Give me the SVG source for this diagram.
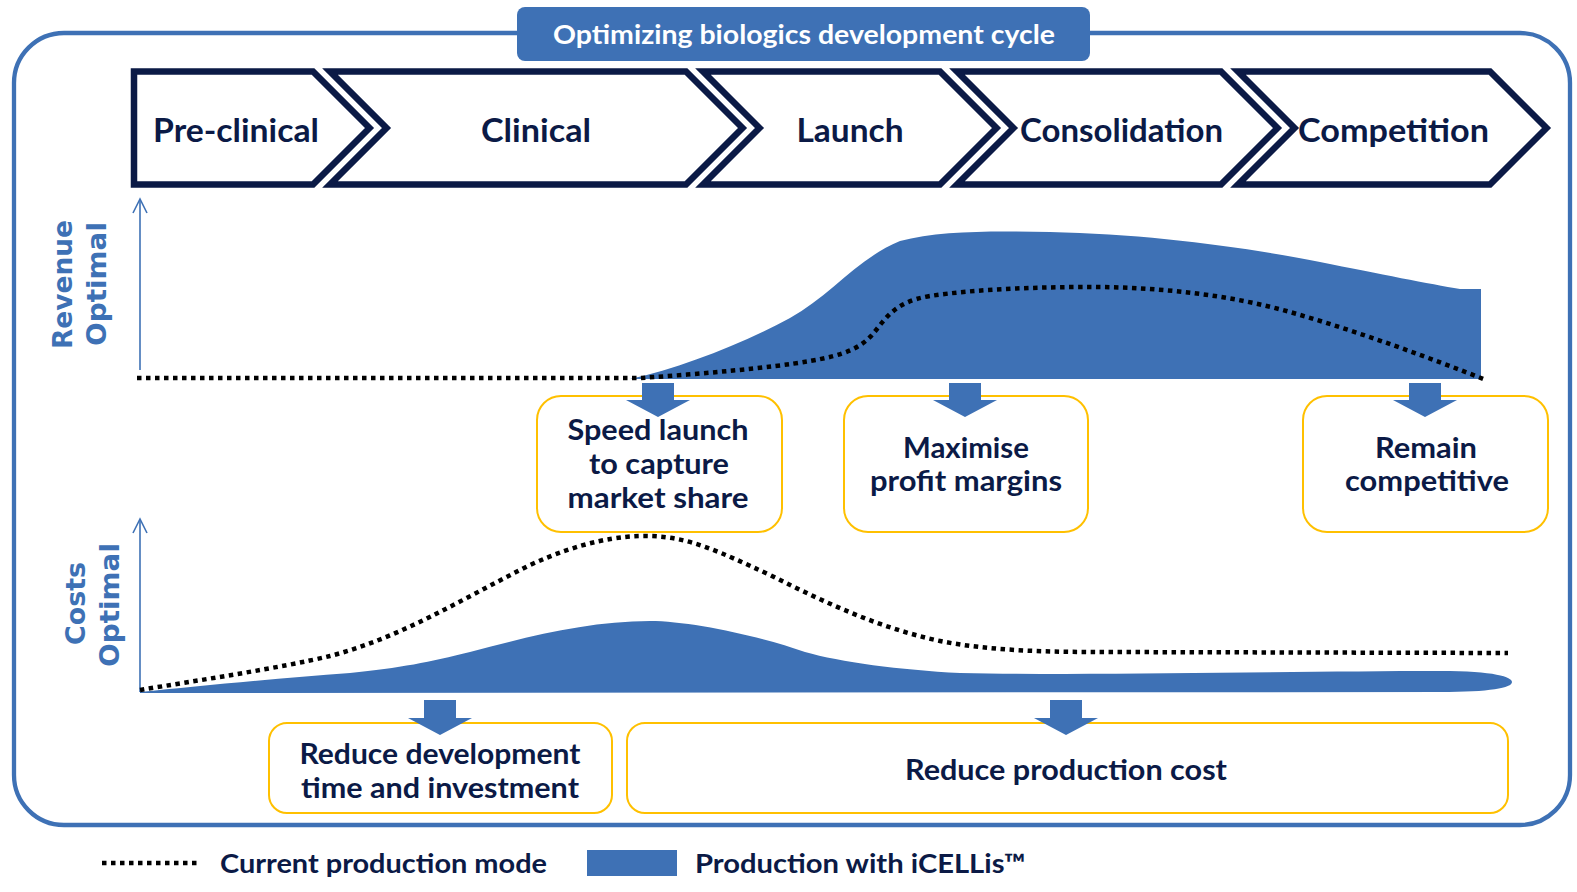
<svg xmlns="http://www.w3.org/2000/svg" width="1577" height="892" viewBox="0 0 1577 892">
<defs>
<style>
.frame{fill:none;stroke:#3e71b5;stroke-width:4.3}
.chev{fill:#fff;stroke:#0b1a46;stroke-width:6.5;stroke-linejoin:miter}
.chevt{font-family:Lato,"Open Sans",sans-serif;font-weight:700;font-size:32px;fill:#0b1a46;text-anchor:middle}
.title{font-family:Lato,"Open Sans",sans-serif;font-weight:700;font-size:26px;fill:#fff;text-anchor:middle}
.box{fill:#fff;stroke:#ffc000;stroke-width:2}
.bt{font-family:Lato,"Open Sans",sans-serif;font-weight:700;font-size:28px;fill:#0b1a46;text-anchor:middle}
.ax{fill:none;stroke:#3e71b5;stroke-width:1.6}
.axt{font-family:"DejaVu Sans",Verdana,sans-serif;font-weight:700;font-size:26px;fill:#3e71b5;text-anchor:middle}
.area{fill:#3e71b5}
.dot{fill:none;stroke:#000;stroke-width:4.5;stroke-dasharray:4.5 4.5}
.arr{fill:#3e71b5}
.lt{font-family:Lato,"Open Sans",sans-serif;font-weight:700;font-size:27px;fill:#0b1a46}
</style>
</defs>
<rect width="1577" height="892" fill="#fff"/>
<g id="frame">
<rect class="frame" x="14" y="33" width="1556" height="792" rx="50" ry="50"/>
</g>
<g id="title">
<rect x="517" y="7" width="573" height="54" rx="8" ry="8" fill="#3e71b5"/>
<text class="title" x="804" y="44" textLength="502" lengthAdjust="spacingAndGlyphs">Optimizing biologics development cycle</text>
</g>
<g id="stage-preclinical">
<path class="chev" d="M134,71.5 H313 L369.5,128 L313,184.5 H134 Z"/>
<text class="chevt" x="236" y="141.5" textLength="166" lengthAdjust="spacingAndGlyphs">Pre-clinical</text>
</g>
<g id="stage-clinical">
<path class="chev" d="M330,71.5 H686 L742.5,128 L686,184.5 H330 L386.5,128 Z"/>
<text class="chevt" x="536" y="141.5" textLength="110" lengthAdjust="spacingAndGlyphs">Clinical</text>
</g>
<g id="stage-launch">
<path class="chev" d="M703,71.5 H940 L996.5,128 L940,184.5 H703 L759.5,128 Z"/>
<text class="chevt" x="850" y="141.5" textLength="107" lengthAdjust="spacingAndGlyphs">Launch</text>
</g>
<g id="stage-consolidation">
<path class="chev" d="M957,71.5 H1221 L1277.5,128 L1221,184.5 H957 L1013.5,128 Z"/>
<text class="chevt" x="1121.5" y="141.5" textLength="203" lengthAdjust="spacingAndGlyphs">Consolidation</text>
</g>
<g id="stage-competition">
<path class="chev" d="M1238,71.5 H1490 L1546.5,128 L1490,184.5 H1238 L1294.5,128 Z"/>
<text class="chevt" x="1393.5" y="141.5" textLength="191" lengthAdjust="spacingAndGlyphs">Competition</text>
</g>
<g id="revenue-chart">
<line class="ax" x1="140" y1="200" x2="140" y2="370"/>
<polyline class="ax" points="133,213 140,199 147,213"/>
<text class="axt" transform="translate(72,284.5) rotate(-90)" textLength="129" lengthAdjust="spacingAndGlyphs">Revenue</text>
<text class="axt" transform="translate(106,284) rotate(-90)" textLength="124" lengthAdjust="spacingAndGlyphs">Optimal</text>
<path class="area" d="M630,379 C680,368 740,345 790,318 C830,296 858,258 900,241 C940,230 1000,231 1050,232 C1150,234 1250,248 1320,262 C1380,274 1430,284 1460,289 L1481,289 L1481,379 Z"/>
<path class="dot" d="M137,378 H640 C700,374 770,368 810,361 C845,355 860,348 872,335 C885,320 893,302 930,296 C975,289 1040,287 1090,287 C1160,287 1230,295 1290,312 C1360,332 1430,358 1486,380"/>
</g>
<g id="costs-chart">
<line class="ax" x1="140" y1="520" x2="140" y2="692"/>
<polyline class="ax" points="133,533 140,519 147,533"/>
<text class="axt" transform="translate(85,603.5) rotate(-90)" textLength="83" lengthAdjust="spacingAndGlyphs">Costs</text>
<text class="axt" transform="translate(119,605) rotate(-90)" textLength="124" lengthAdjust="spacingAndGlyphs">Optimal</text>
<path class="area" d="M140,692 C200,686 280,678 350,673 C400,668 430,662 470,652 C530,636 590,621 650,621 C690,621 760,636 805,652 C840,662 900,670 960,673 C1100,676 1300,671 1440,671 C1495,671 1512,677 1512,682 C1512,688 1490,692 1440,692 L140,693 Z"/>
<path class="dot" d="M140,690 C200,680 280,668 330,656 C400,638 460,600 530,565 C580,542 620,535 650,536 C690,537 720,552 770,575 C830,605 880,628 940,641 C990,651 1050,652 1100,652 L1508,653"/>
</g>
<g id="callout-speed">
<rect class="box" x="537" y="396" width="245" height="136" rx="24" ry="24"/>
<text class="bt" x="658" y="440" textLength="181" lengthAdjust="spacingAndGlyphs">Speed launch</text>
<text class="bt" x="659" y="474" textLength="140" lengthAdjust="spacingAndGlyphs">to capture</text>
<text class="bt" x="658" y="508" textLength="181" lengthAdjust="spacingAndGlyphs">market share</text>
</g>
<g id="callout-maximise">
<rect class="box" x="844" y="396" width="244" height="136" rx="24" ry="24"/>
<text class="bt" x="966" y="458" textLength="126" lengthAdjust="spacingAndGlyphs">Maximise</text>
<text class="bt" x="966" y="491" textLength="192" lengthAdjust="spacingAndGlyphs">profit margins</text>
</g>
<g id="callout-remain">
<rect class="box" x="1303" y="396" width="245" height="136" rx="24" ry="24"/>
<text class="bt" x="1426" y="458" textLength="102" lengthAdjust="spacingAndGlyphs">Remain</text>
<text class="bt" x="1427" y="491" textLength="164" lengthAdjust="spacingAndGlyphs">competitive</text>
</g>
<g id="callout-reduce-dev">
<rect class="box" x="269" y="723" width="343" height="90" rx="18" ry="18"/>
<text class="bt" x="440" y="764" textLength="281" lengthAdjust="spacingAndGlyphs">Reduce development</text>
<text class="bt" x="440" y="798" textLength="278" lengthAdjust="spacingAndGlyphs">time and investment</text>
</g>
<g id="callout-reduce-prod">
<rect class="box" x="627" y="723" width="881" height="90" rx="18" ry="18"/>
<text class="bt" x="1066" y="780" textLength="322" lengthAdjust="spacingAndGlyphs">Reduce production cost</text>
</g>
<g id="connectors">
<polygon class="arr" points="642,383 674,383 674,400 690,400 658,417 626,400 642,400"/>
<polygon class="arr" points="949,383 981,383 981,400 997,400 965,417 933,400 949,400"/>
<polygon class="arr" points="1409,383 1441,383 1441,400 1457,400 1425,417 1393,400 1409,400"/>
<polygon class="arr" points="424,700 456,700 456,718 472,718 440,735 408,718 424,718"/>
<polygon class="arr" points="1050,700 1082,700 1082,718 1098,718 1066,735 1034,718 1050,718"/>
</g>
<g id="legend">
<line class="dot" x1="102" y1="863" x2="199" y2="863"/>
<text class="lt" x="220" y="873" textLength="327" lengthAdjust="spacingAndGlyphs">Current production mode</text>
<rect x="587" y="850" width="90" height="26" fill="#3e71b5"/>
<text class="lt" x="695" y="873" textLength="331" lengthAdjust="spacingAndGlyphs">Production with iCELLis™</text>
</g>
</svg>
